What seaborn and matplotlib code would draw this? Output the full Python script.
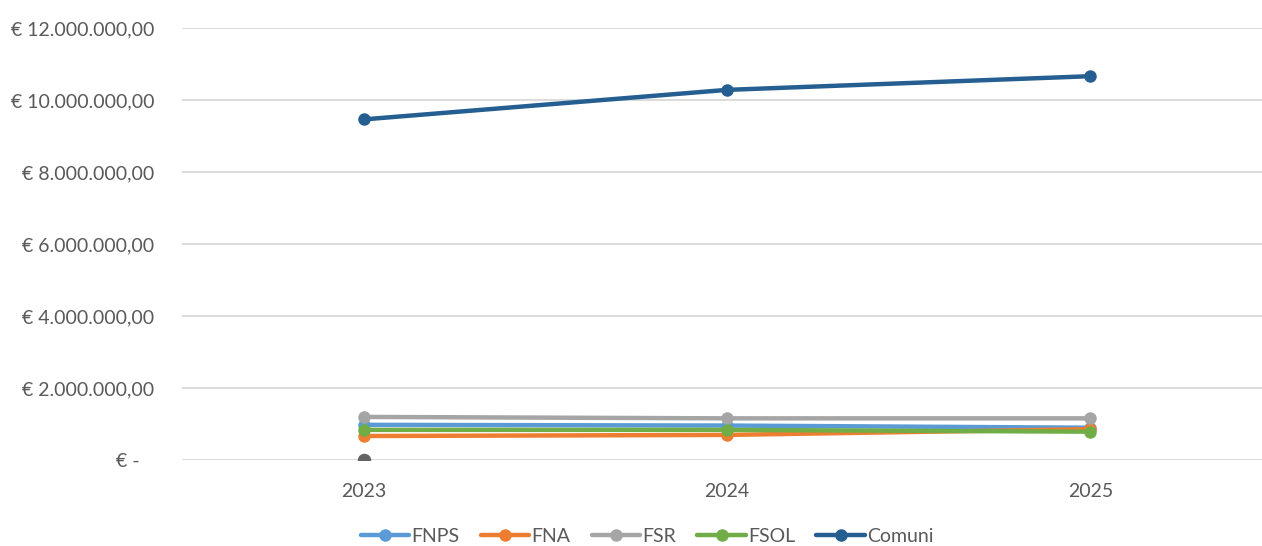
import matplotlib
matplotlib.use("Agg")
import matplotlib.pyplot as plt
from matplotlib.ticker import FuncFormatter, MultipleLocator
import seaborn as sns
import pandas as pd

# Funding by source, 2023-2025
years = ["2023", "2024", "2025"]
fnps = [990_000, 970_000, 910_000]
fna = [680_000, 710_000, 870_000]
fsr = [1_210_000, 1_170_000, 1_170_000]
fsol = [850_000, 850_000, 800_000]
comuni = [9_470_000, 10_290_000, 10_670_000]
series_names = ["FNPS", "FNA", "FSR", "FSOL", "Comuni"]
series_colors = ["#5B9BD5", "#ED7D31", "#A5A5A5", "#70AD47", "#255E91"]
# Single extra point at the baseline (not in the legend)
extra_year = ["2023"]
extra_value = [0]

sns.set_theme(style="white")
plt.rcParams["font.family"] = ["Lato", "DejaVu Sans"]

text_color = "#595959"

df = pd.DataFrame({
    "anno": years * len(series_names),
    "valore": fnps + fna + fsr + fsol + comuni,
    "fondo": [n for n in series_names for _ in years],
})

fig = plt.figure(figsize=(12.62, 5.46), dpi=100)
ax = fig.add_axes([182 / 1262, 0.1566, 1090 / 1262, 0.7916])

sns.lineplot(
    data=df, x="anno", y="valore", hue="fondo", hue_order=series_names,
    palette=series_colors, marker="o", markersize=9, markeredgewidth=0,
    linewidth=3.2, ax=ax, sort=False,
)
sns.scatterplot(x=extra_year, y=extra_value, color="#636363", s=95,
                linewidth=0, ax=ax, legend=False, zorder=5)

ax.set_xlim(-0.5, 2.5)
ax.set_ylim(0, 12_000_000)
ax.yaxis.set_major_locator(MultipleLocator(2_000_000))


def euro(v, _pos):
    if v == 0:
        return "€ -   "
    s = f"{v:,.2f}".replace(",", "X").replace(".", ",").replace("X", ".")
    return f"€ {s}"


ax.yaxis.set_major_formatter(FuncFormatter(euro))
ax.grid(axis="y", color="#D9D9D9", linewidth=1.3)
ax.set_axisbelow(True)
for sp in ax.spines.values():
    sp.set_visible(False)
ax.tick_params(axis="y", length=0, pad=20, labelsize=14, labelcolor=text_color)
ax.tick_params(axis="x", length=0, pad=16, labelsize=14, labelcolor=text_color)
ax.set_xlabel("")
ax.set_ylabel("")

handles, labels = ax.get_legend_handles_labels()
ax.legend_.remove()
fig.legend(handles, labels, loc="lower center", bbox_to_anchor=(647 / 1262, -0.03),
           ncol=5, frameon=False, fontsize=14, labelcolor=text_color,
           handlelength=2.5, handletextpad=0.1, columnspacing=1.1)

fig.savefig("out.png", dpi=100)
